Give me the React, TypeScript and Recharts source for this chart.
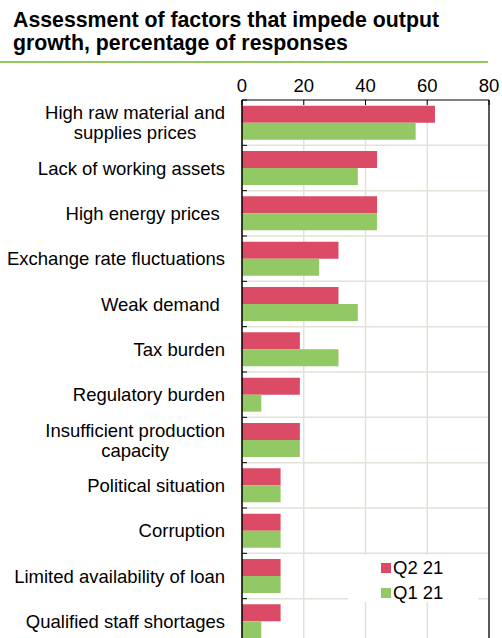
import { Bar, BarChart, CartesianGrid, Legend, ReferenceLine, XAxis, YAxis } from 'recharts'

const FONT = '"Liberation Sans", Arial, sans-serif'
const FS = 18.5

const factors = [
  'High raw material and\nsupplies prices',
  'Lack of working assets',
  'High energy prices ',
  'Exchange rate fluctuations',
  'Weak demand ',
  'Tax burden',
  'Regulatory burden',
  'Insufficient production\ncapacity',
  'Political situation',
  'Corruption',
  'Limited availability of loan',
  'Qualified staff shortages'
]

const q2_21 = [62.5, 43.75, 43.75, 31.25, 31.25, 18.75, 18.75, 18.75, 12.5, 12.5, 12.5, 12.5]
const q1_21 = [56.25, 37.5, 43.75, 25, 37.5, 31.25, 6.25, 18.75, 12.5, 12.5, 12.5, 6.25]

const xTicks = [0, 20, 40, 60, 80]
const seriesOrder = ['Q2 21', 'Q1 21']

const data = factors.map((name, i) => ({ name, q2: q2_21[i], q1: q1_21[i] }))

let ctx: CanvasRenderingContext2D | null = null
function textWidth(s: string) {
  if (!ctx) ctx = document.createElement('canvas').getContext('2d')
  if (!ctx) return s.length * 9
  ctx.font = `${FS}px ${FONT}`
  return ctx.measureText(s).width
}

function XTick({ x, y, payload }: any) {
  return (
    <g>
      <text x={x} y={y} textAnchor="middle" fontSize={FS} fill="#000" fontFamily={FONT}>
        {payload.value}
      </text>
      <line x1={x} x2={x} y1={y + 8} y2={y + 13} stroke="#000" />
    </g>
  )
}

function YTick({ x, y, payload }: any) {
  const lines = String(payload.value).split('\n')
  const half = payload.offset || 0
  const mark = <line x1={x + 17} x2={x + 22} y1={y - half} y2={y - half} stroke="#000" />
  if (lines.length === 1) {
    return (
      <g>
        <text x={x} y={y + 6.5} textAnchor="end" fontSize={FS} fill="#000" fontFamily={FONT} style={{ whiteSpace: 'pre' }}>
          {lines[0]}
        </text>
        {mark}
      </g>
    )
  }
  const w = Math.max(...lines.map(textWidth))
  const cx = x - w / 2
  return (
    <g>
      {lines.map((l, i) => (
        <text key={i} x={cx} y={y + 6.5 + (i - (lines.length - 1) / 2) * 20} textAnchor="middle" fontSize={FS} fill="#000" fontFamily={FONT}>
          {l}
        </text>
      ))}
      {mark}
    </g>
  )
}

function LegendBox({ payload }: any) {
  const items = [...(payload || [])].sort(
    (a: any, b: any) => seriesOrder.indexOf(a.value) - seriesOrder.indexOf(b.value)
  )
  return (
    <div style={{ fontFamily: FONT, fontSize: FS, color: '#000', padding: '0 0 0 33px' }}>
      {items.map((p: any) => (
        <div key={p.value} style={{ display: 'flex', alignItems: 'center', height: 25 }}>
          <span style={{ display: 'inline-block', width: 10, height: 10, background: p.color, marginRight: 2 }} />
          <span>{p.value}</span>
        </div>
      ))}
    </div>
  )
}

export default function App() {
  return (
    <div style={{ position: 'absolute', left: 0, top: 0, width: 502, height: 638, overflow: 'hidden', background: '#fff' }}>
      <div
        style={{
          position: 'absolute',
          left: 13,
          top: 9,
          fontFamily: FONT,
          fontWeight: 'bold',
          fontSize: 21.3,
          lineHeight: '22.5px',
          color: '#000',
          whiteSpace: 'nowrap',
          zIndex: 2
        }}
      >
        Assessment of factors that impede output
        <br />
        growth, percentage of responses
      </div>
      <div style={{ position: 'absolute', left: 0, top: 61, width: 488, height: 2, background: '#92c95c', zIndex: 2 }} />
      <BarChart
        width={502}
        height={650}
        data={data}
        layout="vertical"
        margin={{ top: 60, right: 13, bottom: 6, left: 0 }}
        barCategoryGap="12.5%"
        barGap={0}
      >
        <CartesianGrid
          stroke="#e2e2d9"
          strokeWidth={1.5}
          horizontalCoordinatesGenerator={({ offset }: any) =>
            factors.slice(1).map((_, i) => offset.top + ((i + 1) * offset.height) / factors.length)
          }
        />
        <XAxis
          type="number"
          orientation="top"
          domain={[0, 80]}
          ticks={xTicks}
          height={40}
          axisLine={{ stroke: '#000' }}
          tickLine={false}
          tickSize={0}
          tickMargin={8}
          tick={<XTick />}
        />
        <YAxis
          type="category"
          dataKey="name"
          width={242}
          axisLine={{ stroke: '#000', strokeWidth: 1.5 }}
          tickLine={false}
          tickSize={0}
          tickMargin={17}
          interval={0}
          tick={<YTick />}
        />
        <ReferenceLine x={80} stroke="#595959" strokeWidth={2} />
        <Legend
          layout="vertical"
          align="center"
          verticalAlign="middle"
          content={<LegendBox />}
          wrapperStyle={{ left: 348, top: 555, width: 130, height: 47, background: '#fff' }}
        />
        <Bar dataKey="q2" name="Q2 21" fill="#dc4b65" isAnimationActive={false} />
        <Bar dataKey="q1" name="Q1 21" fill="#92c964" isAnimationActive={false} />
      </BarChart>
    </div>
  )
}
